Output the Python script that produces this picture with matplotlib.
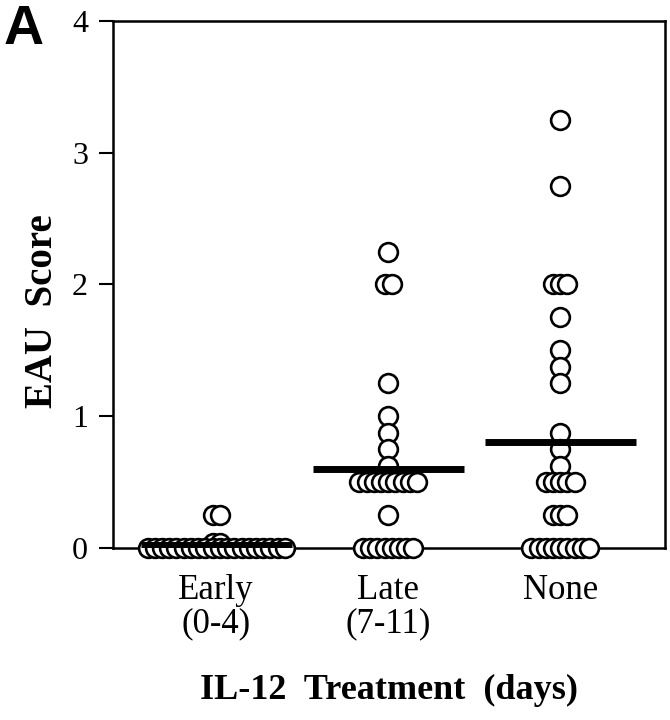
import matplotlib
matplotlib.use("Agg")
import matplotlib.pyplot as plt
import numpy as np

# ---- data ----
groups = ["Early", "Late", "None"]
group_labels = ["Early\n(0-4)", "Late\n(7-11)", "None"]
# each group: list of (score, count) rows
early_scores = [0.25, 0.04, 0.0]
early_counts = [2, 2, 20]
late_scores = [2.25, 2.0, 1.25, 1.0, 0.875, 0.75, 0.625, 0.5, 0.25, 0.0]
late_counts = [1, 2, 1, 1, 1, 1, 1, 9, 1, 8]
none_scores = [3.25, 2.75, 2.0, 1.75, 1.5, 1.375, 1.25, 0.875, 0.75, 0.625, 0.5, 0.25, 0.0]
none_counts = [1, 1, 3, 1, 1, 1, 1, 1, 1, 1, 5, 3, 9]
yticks = [0, 1, 2, 3, 4]

all_scores = [early_scores, late_scores, none_scores]
all_counts = [early_counts, late_counts, none_counts]

plt.rcParams['font.family'] = ['Liberation Serif', 'DejaVu Serif']

fig = plt.figure(figsize=(6.7, 7.2), dpi=100)
ax = fig.add_axes([0.1687, 0.2389, 0.824, 0.732])

step = 0.042  # horizontal offset between stacked circles (data units)
for gi, (sc, cn) in enumerate(zip(all_scores, all_counts)):
    xc = gi + 1
    vals = []
    for s, c in zip(sc, cn):
        offs = (np.arange(c) - (c - 1) / 2) * step
        for o in offs:
            ax.plot(xc + o, s, marker='o', ms=13.5, mfc='white', mec='black',
                    mew=1.9, ls='none', zorder=3, clip_on=False)
        vals += [s] * c
    m = np.mean(vals)
    ax.plot([xc - 0.44, xc + 0.44], [m, m], color='black', lw=5, zorder=4,
            solid_capstyle='butt')

ax.set_xlim(0.40, 3.61)
ax.set_ylim(0, 4)
ax.set_yticks(yticks)
ax.set_yticklabels([str(t) for t in yticks], fontsize=23)
ax.set_xticks([1, 2, 3])
ax.set_xticklabels(group_labels, fontsize=25, linespacing=1.0)
ax.tick_params(axis='x', length=0, pad=19)
ax.tick_params(axis='y', length=10, width=1.5, direction='out', pad=8)
for sp in ax.spines.values():
    sp.set_linewidth(1.8)
    sp.set_zorder(2)

ax.set_ylabel("EAU  Score", fontsize=28, fontweight='bold')
ax.yaxis.set_label_coords(-0.095, 0.45)
ax.set_xlabel("IL-12  Treatment  (days)", fontsize=26, fontweight='bold', labelpad=24)

fig.text(0.005, 0.995, "A", fontsize=40, fontweight='bold', family='Liberation Sans',
         ha='left', va='top')

fig.savefig("out.png", dpi=100)
